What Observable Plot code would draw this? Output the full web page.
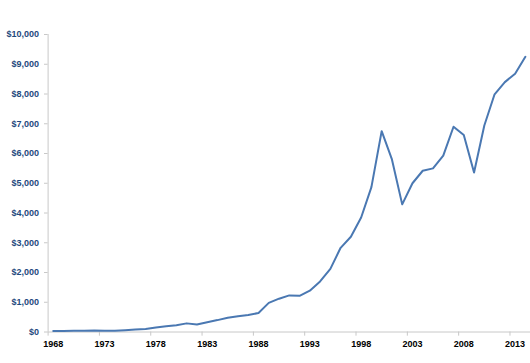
<!DOCTYPE html>
<html>
<head>
<meta charset="utf-8">
<script src="https://cdn.jsdelivr.net/npm/d3@7"></script>
<script src="https://cdn.jsdelivr.net/npm/@observablehq/plot@0.6"></script>
<style>
  html, body { margin: 0; padding: 0; background: #fff; }
  #chart { width: 530px; height: 363px; }
</style>
</head>
<body>
<div id="chart"></div>
<script>
const years = d3.range(1968, 2015);
const values = [
  30, 35, 40, 45, 50, 45, 40, 60, 80, 100,
  150, 190, 230, 290, 250, 330, 400, 480, 530, 570,
  640, 980, 1120, 1230, 1215, 1390, 1700, 2120, 2830, 3200,
  3850, 4870, 6750, 5800, 4290, 5000, 5420, 5500, 5930, 6900,
  6620, 5360, 6940, 7990, 8400, 8680, 9250
];
const xTickLabels = [1968, 1973, 1978, 1983, 1988, 1993, 1998, 2003, 2008, 2013];
const yTicks = [0, 1000, 2000, 3000, 4000, 5000, 6000, 7000, 8000, 9000, 10000];

const data = years.map((year, i) => ({year, value: values[i]}));
const fmt = d => "$" + d3.format(",")(d);
const font = "Liberation Sans, Arial, sans-serif";

const chart = Plot.plot({
  width: 530,
  height: 363,
  marginLeft: 47.6,
  marginRight: 0,
  marginTop: 34,
  marginBottom: 31.5,
  style: {fontFamily: font, background: "#fff"},
  x: {domain: [1967.5, 2014.5], axis: null},
  y: {domain: [0, 10000], axis: null},
  marks: [
    Plot.ruleY(yTicks, {x1: 1967.15, x2: 1967.5, stroke: "#c8c8c8", strokeWidth: 1}),
    Plot.ruleX(xTickLabels.map(d => d - 0.5), {y1: 0, y2: -140, stroke: "#c8c8c8", strokeWidth: 1}),
    Plot.ruleY([0], {stroke: "#c8c8c8", strokeWidth: 1}),
    Plot.ruleX([1967.5], {y1: 0, y2: 10000, stroke: "#c8c8c8", strokeWidth: 1}),
    Plot.line(data, {x: "year", y: "value", stroke: "#4a78b2", strokeWidth: 2}),
    Plot.text(yTicks, {x: 1967.5, y: d => d, text: fmt, textAnchor: "end", dx: -9,
      fontSize: 9, fontWeight: "bold", fill: "#1F497D", fontFamily: font}),
    Plot.text(xTickLabels, {x: d => d, y: 0, text: d => String(d), dy: 12,
      fontSize: 9, fontWeight: "bold", fill: "#000", fontFamily: font})
  ]
});
document.getElementById("chart").appendChild(chart);
</script>
</body>
</html>
